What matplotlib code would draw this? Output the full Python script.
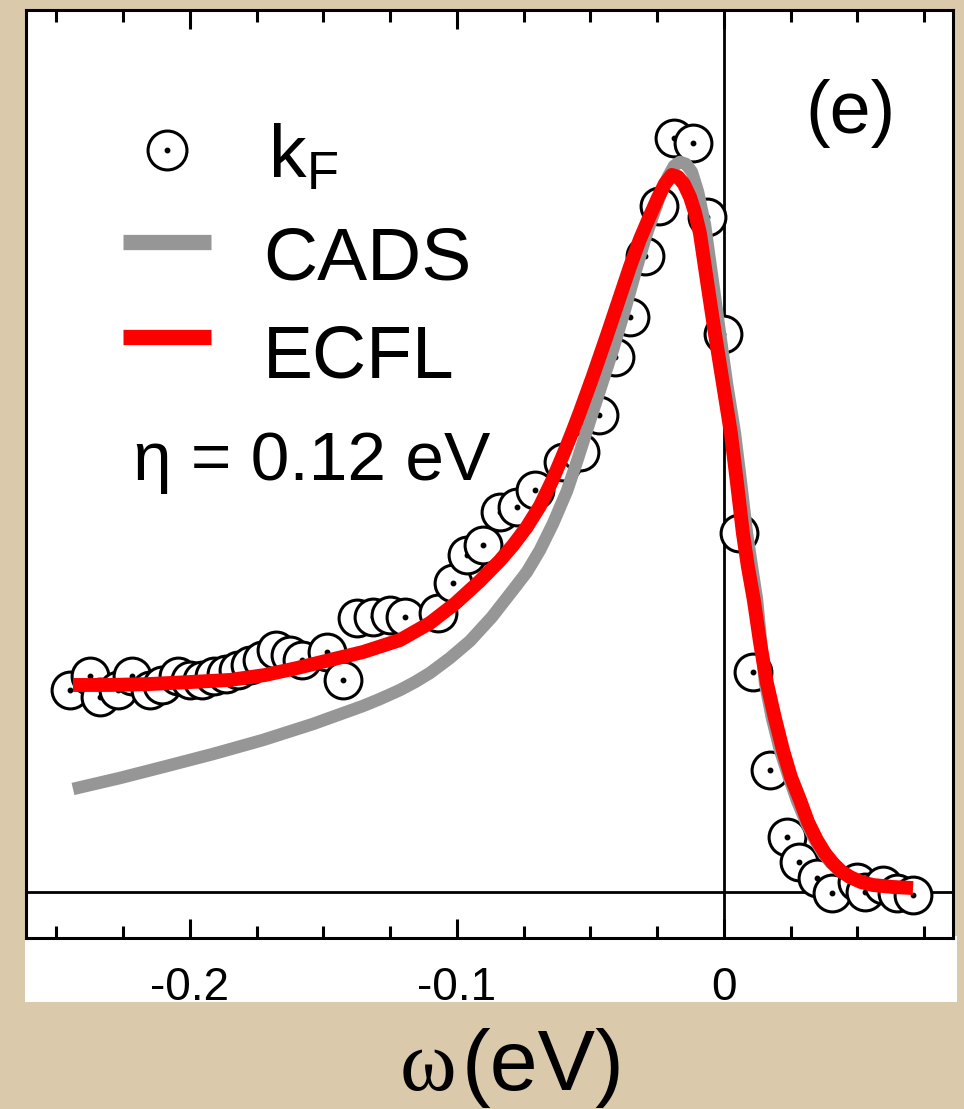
import matplotlib
matplotlib.use("Agg")
import matplotlib.pyplot as plt
from matplotlib.patches import Rectangle
from matplotlib.ticker import MultipleLocator

plt.rcParams['font.family'] = ['Liberation Sans', 'DejaVu Sans']
plt.rcParams['axes.unicode_minus'] = False
plt.rcParams['mathtext.fontset'] = 'custom'
plt.rcParams['mathtext.rm'] = 'Liberation Sans'

# ---- data ----
kf_x = [-0.2449, -0.2375, -0.2337, -0.2270, -0.2217, -0.2150, -0.2105, -0.2045, -0.2000, -0.1955,
        -0.1910, -0.1865, -0.1820, -0.1775, -0.1730, -0.1678, -0.1625, -0.1581, -0.1487, -0.1427,
        -0.1375, -0.1315, -0.1251, -0.1195, -0.1071, -0.1015, -0.0963, -0.0903, -0.0839, -0.0775,
        -0.0708, -0.0603, -0.0539, -0.0468, -0.0408, -0.0352, -0.0296, -0.0243, -0.0187, -0.0116,
        -0.0064, -0.0004, 0.0056, 0.0109, 0.0172, 0.0236, 0.0281, 0.0348, 0.0404, 0.0498,
        0.0528, 0.0596, 0.0648, 0.0708]
kf_y = [0.274, 0.293, 0.265, 0.274, 0.293, 0.274, 0.281, 0.293, 0.288, 0.288,
        0.293, 0.296, 0.301, 0.308, 0.315, 0.328, 0.322, 0.315, 0.326, 0.288,
        0.372, 0.373, 0.376, 0.373, 0.379, 0.419, 0.457, 0.471, 0.516, 0.522,
        0.545, 0.583, 0.597, 0.647, 0.726, 0.780, 0.863, 0.931, 1.023, 1.016,
        0.916, 0.757, 0.487, 0.299, 0.166, 0.075, 0.041, 0.019, -0.001, 0.014,
        0.000, 0.009, -0.001, -0.004]

ecfl_x = [-0.2438, -0.2300, -0.2150, -0.2000, -0.1850, -0.1719, -0.1599, -0.1476, -0.1352, -0.1213,
          -0.1101, -0.1007, -0.0914, -0.0839, -0.0790, -0.0738, -0.0689, -0.0644, -0.0603, -0.0569,
          -0.0539, -0.0491, -0.0438, -0.0397, -0.0352, -0.0315, -0.0277, -0.0247, -0.0221, -0.0195,
          -0.0172, -0.0150, -0.0127, -0.0109, -0.0090, -0.0064, -0.0034, -0.0004, 0.0026, 0.0049,
          0.0071, 0.0090, 0.0112, 0.0135, 0.0161, 0.0191, 0.0221, 0.0251, 0.0285, 0.0315,
          0.0348, 0.0378, 0.0408, 0.0438, 0.0472, 0.0513, 0.0558, 0.0633, 0.0708]
ecfl_y = [0.2809, 0.2809, 0.2822, 0.2849, 0.2877, 0.2944, 0.3039, 0.3148, 0.3256, 0.3419,
          0.3650, 0.3913, 0.4220, 0.4498, 0.4704, 0.4954, 0.5238, 0.5576, 0.5925, 0.6231,
          0.6516, 0.6996, 0.7553, 0.7996, 0.8482, 0.8852, 0.9175, 0.9420, 0.9610, 0.9729,
          0.9702, 0.9607, 0.9430, 0.9227, 0.8942, 0.8304, 0.7585, 0.6906, 0.6228, 0.5550,
          0.4871, 0.4410, 0.3962, 0.3392, 0.2836, 0.2361, 0.1927, 0.1560, 0.1248, 0.0950,
          0.0706, 0.0529, 0.0393, 0.0285, 0.0204, 0.0136, 0.0095, 0.0068, 0.0054]

cads_x = [-0.2438, -0.2262, -0.2101, -0.1914, -0.1727, -0.1539, -0.1352, -0.1288, -0.1213, -0.1157,
          -0.1101, -0.1026, -0.0951, -0.0869, -0.0790, -0.0738, -0.0689, -0.0640, -0.0588, -0.0547,
          -0.0502, -0.0457, -0.0416, -0.0371, -0.0326, -0.0292, -0.0258, -0.0232, -0.0210, -0.0187,
          -0.0165, -0.0142, -0.0120, -0.0097, -0.0071, -0.0045, -0.0015, 0.0011, 0.0041, 0.0064,
          0.0086, 0.0105, 0.0124, 0.0139, 0.0154, 0.0180, 0.0210, 0.0243, 0.0273, 0.0307,
          0.0341, 0.0371, 0.0401, 0.0434, 0.0468, 0.0513, 0.0558, 0.0633, 0.0708]
cads_y = [0.1398, 0.1547, 0.1696, 0.1872, 0.2062, 0.2280, 0.2524, 0.2619, 0.2741, 0.2849,
          0.2972, 0.3175, 0.3406, 0.3731, 0.4098, 0.4342, 0.4640, 0.5000, 0.5440, 0.5880,
          0.6391, 0.6893, 0.7354, 0.7897, 0.8480, 0.8901, 0.9254, 0.9525, 0.9702, 0.9851,
          0.9905, 0.9878, 0.9769, 0.9498, 0.9050, 0.8372, 0.7585, 0.6906, 0.6228, 0.5550,
          0.4871, 0.4410, 0.3962, 0.3392, 0.2836, 0.2361, 0.1927, 0.1560, 0.1248, 0.0950,
          0.0706, 0.0529, 0.0393, 0.0285, 0.0204, 0.0136, 0.0095, 0.0068, 0.0054]

xticks_major = [-0.2, -0.1, 0.0]
xtick_labels = ["-0.2", "-0.1", "0"]

# ---- figure ----
W, H = 964, 1109
fig = plt.figure(figsize=(W / 100, H / 100), dpi=100)
fig.patch.set_facecolor('#dac9aa')

def fx(px):
    return px / W

def fy(py):
    return 1 - py / H

# white strip behind tick labels (drawn below the axes)
fig.patches.append(Rectangle((fx(25), fy(1002)), fx(957) - fx(25), fy(936) - fy(1002),
                             transform=fig.transFigure, facecolor='white', edgecolor='none',
                             zorder=-5))

ax = fig.add_axes([fx(26), fy(938), fx(953) - fx(26), fy(10) - fy(938)])
ax.set_facecolor('white')
ax.set_xlim(-0.2614, 0.0858)
ax.set_ylim(-0.0624, 1.1967)

for s in ax.spines.values():
    s.set_linewidth(2.2)

ax.axhline(0, color='black', lw=2.0, zorder=1)
ax.axvline(0, color='black', lw=2.0, zorder=1)

# data circles, drawn one after another so that later ones cover earlier ones
for i, (x, y) in enumerate(zip(kf_x, kf_y)):
    z = 2 + i * 0.01
    ax.plot([x], [y], 'o', ms=26.5, mfc='white', mec='black', mew=2.2, zorder=z)
    ax.plot([x], [y], 'o', ms=3.2, color='black', zorder=z + 0.005)

ax.plot(cads_x, cads_y, color='#969696', lw=9, solid_capstyle='butt',
        solid_joinstyle='round', zorder=5)
ax.plot(ecfl_x, ecfl_y, color='#ff0000', lw=10, solid_capstyle='butt',
        solid_joinstyle='round', zorder=6)

ax.set_xticks(xticks_major)
ax.set_xticklabels(xtick_labels)
ax.xaxis.set_minor_locator(MultipleLocator(0.025))
ax.tick_params(axis='x', which='both', direction='in', top=True, bottom=True,
               width=2.2, labelsize=33, pad=20)
ax.tick_params(axis='x', which='major', length=14)
ax.tick_params(axis='x', which='minor', length=8.5)
ax.set_yticks([])

# ---- legend (manual) ----
fig.add_artist(plt.Line2D([fx(167)], [fy(150)], marker='o', ms=28, mfc='white', mec='black',
                          mew=2.2, transform=fig.transFigure))
fig.add_artist(plt.Line2D([fx(167)], [fy(150)], marker='o', ms=3.2, color='black',
                          transform=fig.transFigure))
fig.add_artist(plt.Line2D([fx(123), fx(211)], [fy(242), fy(242)], color='#969696', lw=11,
                          solid_capstyle='butt', transform=fig.transFigure))
fig.add_artist(plt.Line2D([fx(123), fx(211)], [fy(337), fy(337)], color='#ff0000', lw=11,
                          solid_capstyle='butt', transform=fig.transFigure))

fig.text(fx(268), fy(178), r'$\mathrm{k}_{\mathrm{F}}$', fontsize=54, ha='left', va='baseline')
fig.text(fx(263), fy(280), 'CADS', fontsize=54, ha='left', va='baseline')
fig.text(fx(263), fy(377), 'ECFL', fontsize=54, ha='left', va='baseline')
fig.text(fx(133), fy(480), 'η = 0.12 eV', fontsize=50, ha='left', va='baseline')
fig.text(fx(850), fy(133), '(e)', fontsize=53, ha='center', va='baseline')

# x-axis label: serif omega + sans "(eV)"
fig.text(fx(456), fy(1090), 'ω', fontsize=62, ha='right', va='baseline',
         family=['Liberation Serif', 'DejaVu Serif'])
fig.text(fx(462), fy(1090), '(eV)', fontsize=62, ha='left', va='baseline')

fig.savefig('out.png', dpi=100, facecolor=fig.get_facecolor())
